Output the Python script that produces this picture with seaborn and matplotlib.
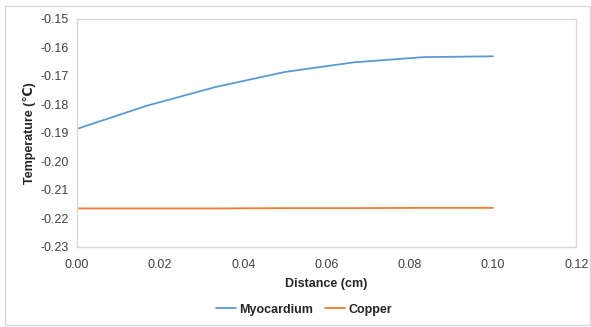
import pandas as pd
import matplotlib
matplotlib.use("Agg")
import matplotlib.pyplot as plt
import seaborn as sns
from matplotlib.patches import Rectangle

# Datos
distance = [0.0, 0.0167, 0.0333, 0.05, 0.0667, 0.0833, 0.1]
myocardium = [-0.1886, -0.1805, -0.1739, -0.1686, -0.1652, -0.1634, -0.1631]
copper = [-0.2165, -0.2165, -0.2165, -0.2164, -0.2164, -0.2163, -0.2163]

df = pd.DataFrame({
    "Distance": distance * 2,
    "Temperature": myocardium + copper,
    "Material": ["Myocardium"] * len(distance) + ["Copper"] * len(distance),
})

sns.set_style("white")
plt.rcParams["font.family"] = ["Liberation Sans", "DejaVu Sans"]

fig, ax = plt.subplots(figsize=(5.91, 3.27), dpi=100)
fig.subplots_adjust(left=0.13, right=0.975, top=0.942, bottom=0.245)

sns.lineplot(data=df, x="Distance", y="Temperature", hue="Material",
             palette={"Myocardium": "#5B9BD5", "Copper": "#ED7D31"},
             linewidth=1.3, ax=ax)

ax.set_xlim(0, 0.12)
ax.set_ylim(-0.23, -0.15)
ax.set_xticks([0, 0.02, 0.04, 0.06, 0.08, 0.10, 0.12])
ax.set_yticks([-0.23, -0.22, -0.21, -0.20, -0.19, -0.18, -0.17, -0.16, -0.15])
ax.xaxis.set_major_formatter(matplotlib.ticker.FormatStrFormatter("%.2f"))
ax.yaxis.set_major_formatter(matplotlib.ticker.FormatStrFormatter("%.2f"))
ax.tick_params(axis="x", pad=9)
ax.tick_params(labelsize=9, length=0, colors="#404040")
ax.tick_params(axis="y", pad=6)
ax.set_xlabel("Distance (cm)", fontsize=9, fontweight="bold", color="#262626", labelpad=5)
ax.set_ylabel("Temperature (℃)", fontsize=9, fontweight="bold", color="#262626", labelpad=3)

for s in ax.spines.values():
    s.set_color("#d9d9d9")
    s.set_linewidth(1)

ax.legend(loc="upper center", bbox_to_anchor=(0.455, -0.2), ncol=2, frameon=False,
          prop={"size": 9, "weight": "bold"}, handlelength=1.6, columnspacing=1.0,
          handletextpad=0.25)

fig.patches.append(Rectangle((0.008, 0.006), 0.99, 0.975, transform=fig.transFigure,
                             fill=False, edgecolor="#d9d9d9", linewidth=1))

fig.savefig("out.png", dpi=100)
